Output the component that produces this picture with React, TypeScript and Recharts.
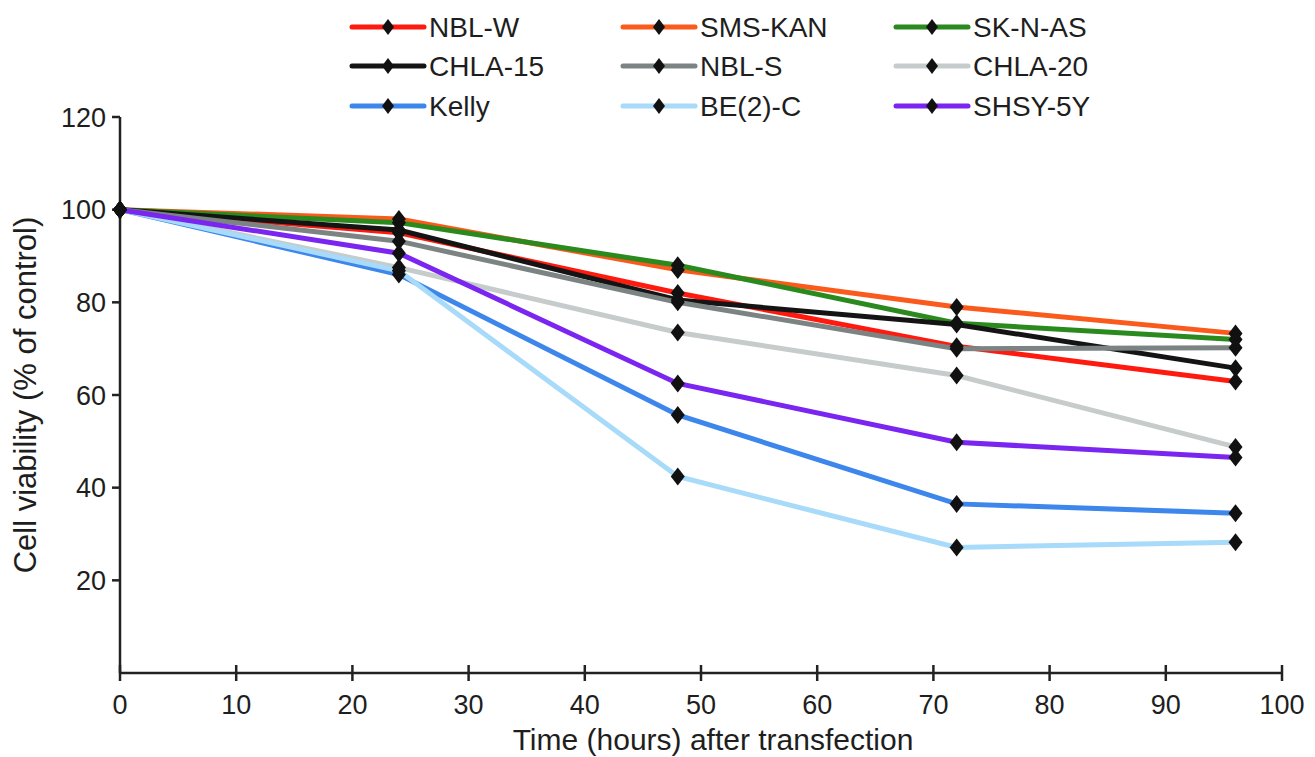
import { Legend, Line, LineChart, XAxis, YAxis } from "recharts";

const hours = [0, 24, 48, 72, 96];

const nblW = [100, 95, 82, 70.5, 62.9];
const smsKan = [100, 98, 87, 79, 73.3];
const skNAs = [100, 97.2, 88, 75.5, 72];
const chla15 = [100, 95.6, 80.5, 75.2, 65.8];
const nblS = [100, 93.2, 80, 70, 70.2];
const chla20 = [100, 87.5, 73.5, 64.2, 48.8];
const kelly = [100, 86, 55.7, 36.5, 34.5];
const be2c = [100, 86.8, 42.4, 27.1, 28.2];
const shsy5y = [100, 90.6, 62.5, 49.8, 46.5];

const xTicks = [0, 10, 20, 30, 40, 50, 60, 70, 80, 90, 100];
const yTicks = [20, 40, 60, 80, 100, 120];

const series = [
  { key: "NBL-W", values: nblW, color: "#ff1a0f" },
  { key: "SMS-KAN", values: smsKan, color: "#fa5a1c" },
  { key: "SK-N-AS", values: skNAs, color: "#2a8a1e" },
  { key: "CHLA-15", values: chla15, color: "#141414" },
  { key: "NBL-S", values: nblS, color: "#7c8483" },
  { key: "CHLA-20", values: chla20, color: "#c6cccb" },
  { key: "Kelly", values: kelly, color: "#3d86ec" },
  { key: "BE(2)-C", values: be2c, color: "#a8daf9" },
  { key: "SHSY-5Y", values: shsy5y, color: "#7a25f0" }
];

const rows = hours.map((h, i) => {
  const row: any = { hour: h };
  series.forEach((s) => {
    row[s.key] = s.values[i];
  });
  return row;
});

const FONT = "'Liberation Sans', Arial, sans-serif";

const Diamond = (props: any) => {
  const { cx, cy } = props;
  if (cx == null || cy == null) return null;
  return (
    <polygon
      points={`${cx},${cy - 9} ${cx + 7},${cy} ${cx},${cy + 9} ${cx - 7},${cy}`}
      fill="#111"
    />
  );
};

const legendCols = [352, 623, 896];
const legendRows = [27, 66, 106];

const renderLegend = () => (
  <svg width={1315} height={117} style={{ display: "block", overflow: "visible" }}>
    {series.map((s, i) => {
      const x = legendCols[i % 3];
      const y = legendRows[Math.floor(i / 3)];
      return (
        <g key={s.key}>
          <line x1={x} x2={x + 72} y1={y} y2={y} stroke={s.color} strokeWidth={5} strokeLinecap="round" />
          <polygon
            points={`${x + 36},${y - 8} ${x + 42},${y} ${x + 36},${y + 8} ${x + 30},${y}`}
            fill="#111"
          />
          <text x={x + 77} y={y + 10} fontSize={28} fontFamily={FONT} fill="#1e1e1e">
            {s.key}
          </text>
        </g>
      );
    })}
  </svg>
);

export default function App() {
  return (
    <div style={{ position: "absolute", left: 0, top: 0, width: 1315, height: 757, background: "#fff" }}>
      <LineChart
        width={1315}
        height={757}
        data={rows}
        margin={{ top: 0, right: 33, left: 0, bottom: 0 }}
      >
        <XAxis
          dataKey="hour"
          type="number"
          domain={[0, 100]}
          ticks={xTicks}
          height={84}
          stroke="#222"
          strokeWidth={2.5}
          tickSize={16}
          tickLine={{ stroke: "#222", strokeWidth: 2.5, transform: "translate(0,-8)" }}
          tick={{ fill: "#1e1e1e", fontSize: 27, fontFamily: FONT, dy: 4 }}
          label={{
            value: "Time (hours) after transfection",
            position: "insideBottom",
            offset: 7,
            dx: 12,
            fill: "#1e1e1e",
            fontSize: 30,
            fontFamily: FONT
          }}
        />
        <YAxis
          type="number"
          domain={[0, 120]}
          ticks={yTicks}
          width={120}
          stroke="#222"
          strokeWidth={2.5}
          tickSize={8}
          tick={{ fill: "#1e1e1e", fontSize: 27, fontFamily: FONT, dx: -4 }}
          label={{
            value: "Cell viability (% of control)",
            angle: -90,
            position: "insideLeft",
            dx: 20,
            fill: "#1e1e1e",
            fontSize: 31,
            fontFamily: FONT,
            style: { textAnchor: "middle" }
          }}
        />
        <Legend
          content={renderLegend}
          verticalAlign="top"
          wrapperStyle={{ top: 0, left: 0, width: 1315, height: 117 }}
        />
        {series.map((s) => (
          <Line
            key={s.key}
            dataKey={s.key}
            stroke={s.color}
            strokeWidth={5}
            dot={<Diamond />}
            activeDot={false}
            isAnimationActive={false}
          />
        ))}
      </LineChart>
    </div>
  );
}
